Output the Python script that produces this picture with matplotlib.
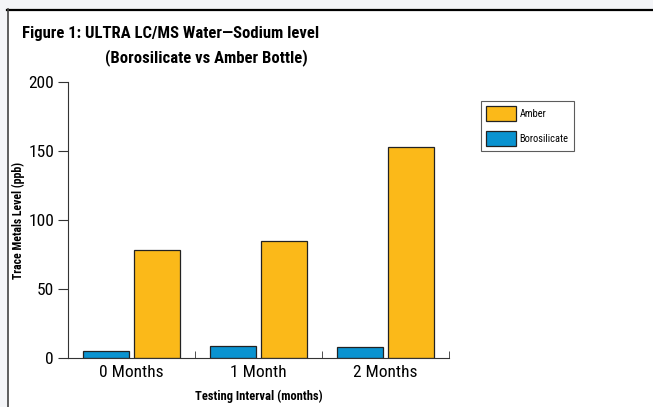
import matplotlib.pyplot as plt
from matplotlib.patches import Rectangle
from matplotlib.lines import Line2D
import numpy as np

plt.rcParams['font.family'] = ['Roboto Condensed', 'DejaVu Sans']
plt.rcParams['font.stretch'] = 'condensed'

intervals = ["0 Months", "1 Month", "2 Months"]
borosilicate = [5, 9, 8]
amber = [78, 85, 153]

blue = '#0a93d0'
gold = '#fbb919'

fig = plt.figure(figsize=(6.53, 4.07), dpi=100)
fig.patch.set_facecolor('white')

# grey page margin and frame
fig.patches.append(Rectangle((0, 1 - 9/407), 1, 9/407, transform=fig.transFigure, color='#f4f5f8', zorder=0))
fig.patches.append(Rectangle((0, 0), 7/653, 1, transform=fig.transFigure, color='#f4f5f8', zorder=0))
fig.lines.append(Line2D([7/653, 1], [1 - 9.5/407, 1 - 9.5/407], transform=fig.transFigure, color='black', lw=1.6))
fig.lines.append(Line2D([7.5/653, 7.5/653], [0, 1 - 9/407], transform=fig.transFigure, color='#444444', lw=1.2))

ax = fig.add_axes([68/653, 49/407, 381/653, 276/407])

x = np.arange(len(intervals))
w = 0.36
ax.bar(x - w/2 - 0.02, borosilicate, w, color=blue, edgecolor='#222222', lw=0.9, label='Borosilicate')
ax.bar(x + w/2 + 0.02, amber, w, color=gold, edgecolor='#222222', lw=0.9, label='Amber')

ax.set_xlim(-0.5, 2.5)
ax.set_ylim(0, 200)
ax.set_yticks([0, 50, 100, 150, 200])
ax.set_xticks(x)
ax.set_xticklabels(intervals)
ax.set_xticks([-0.5, 0.5, 1.5, 2.5], minor=True)
ax.tick_params(axis='x', which='major', length=0, labelsize=12.5, pad=5)
ax.tick_params(axis='x', which='minor', direction='in', length=5, color='#333333')
ax.tick_params(axis='y', direction='out', length=7, labelsize=12.5, color='#333333', pad=3)

for s in ['top', 'right']:
    ax.spines[s].set_visible(False)
for s in ['left', 'bottom']:
    ax.spines[s].set_color('#333333')

ax.set_ylabel("Trace Metals Level (ppb)", fontsize=8.5, fontweight='bold')
ax.yaxis.set_label_coords(-43/381, 0.5)
ax.set_xlabel("Testing Interval (months)", fontsize=9, fontweight='bold')
ax.xaxis.set_label_coords(0.5, -32/276)

h, l = ax.get_legend_handles_labels()
leg = ax.legend(h[::-1], l[::-1], loc='upper left', bbox_to_anchor=(481/653, 1 - 101/407),
                bbox_transform=fig.transFigure, fontsize=7.5, frameon=True, fancybox=False,
                edgecolor='#333333', handlelength=2.9, handleheight=1.8, borderpad=0.5,
                labelspacing=1.0, handletextpad=0.3, borderaxespad=0)
leg.get_frame().set_linewidth(0.8)

fig.text(22/653, 1 - 38/407, "Figure 1: ULTRA LC/MS Water\u2014Sodium level", fontsize=12,
         fontweight='bold', ha='left', va='baseline')
fig.text(105/653, 1 - 62/407, "(Borosilicate vs Amber Bottle)", fontsize=12,
         fontweight='bold', ha='left', va='baseline')

fig.savefig('out.png', dpi=100)
